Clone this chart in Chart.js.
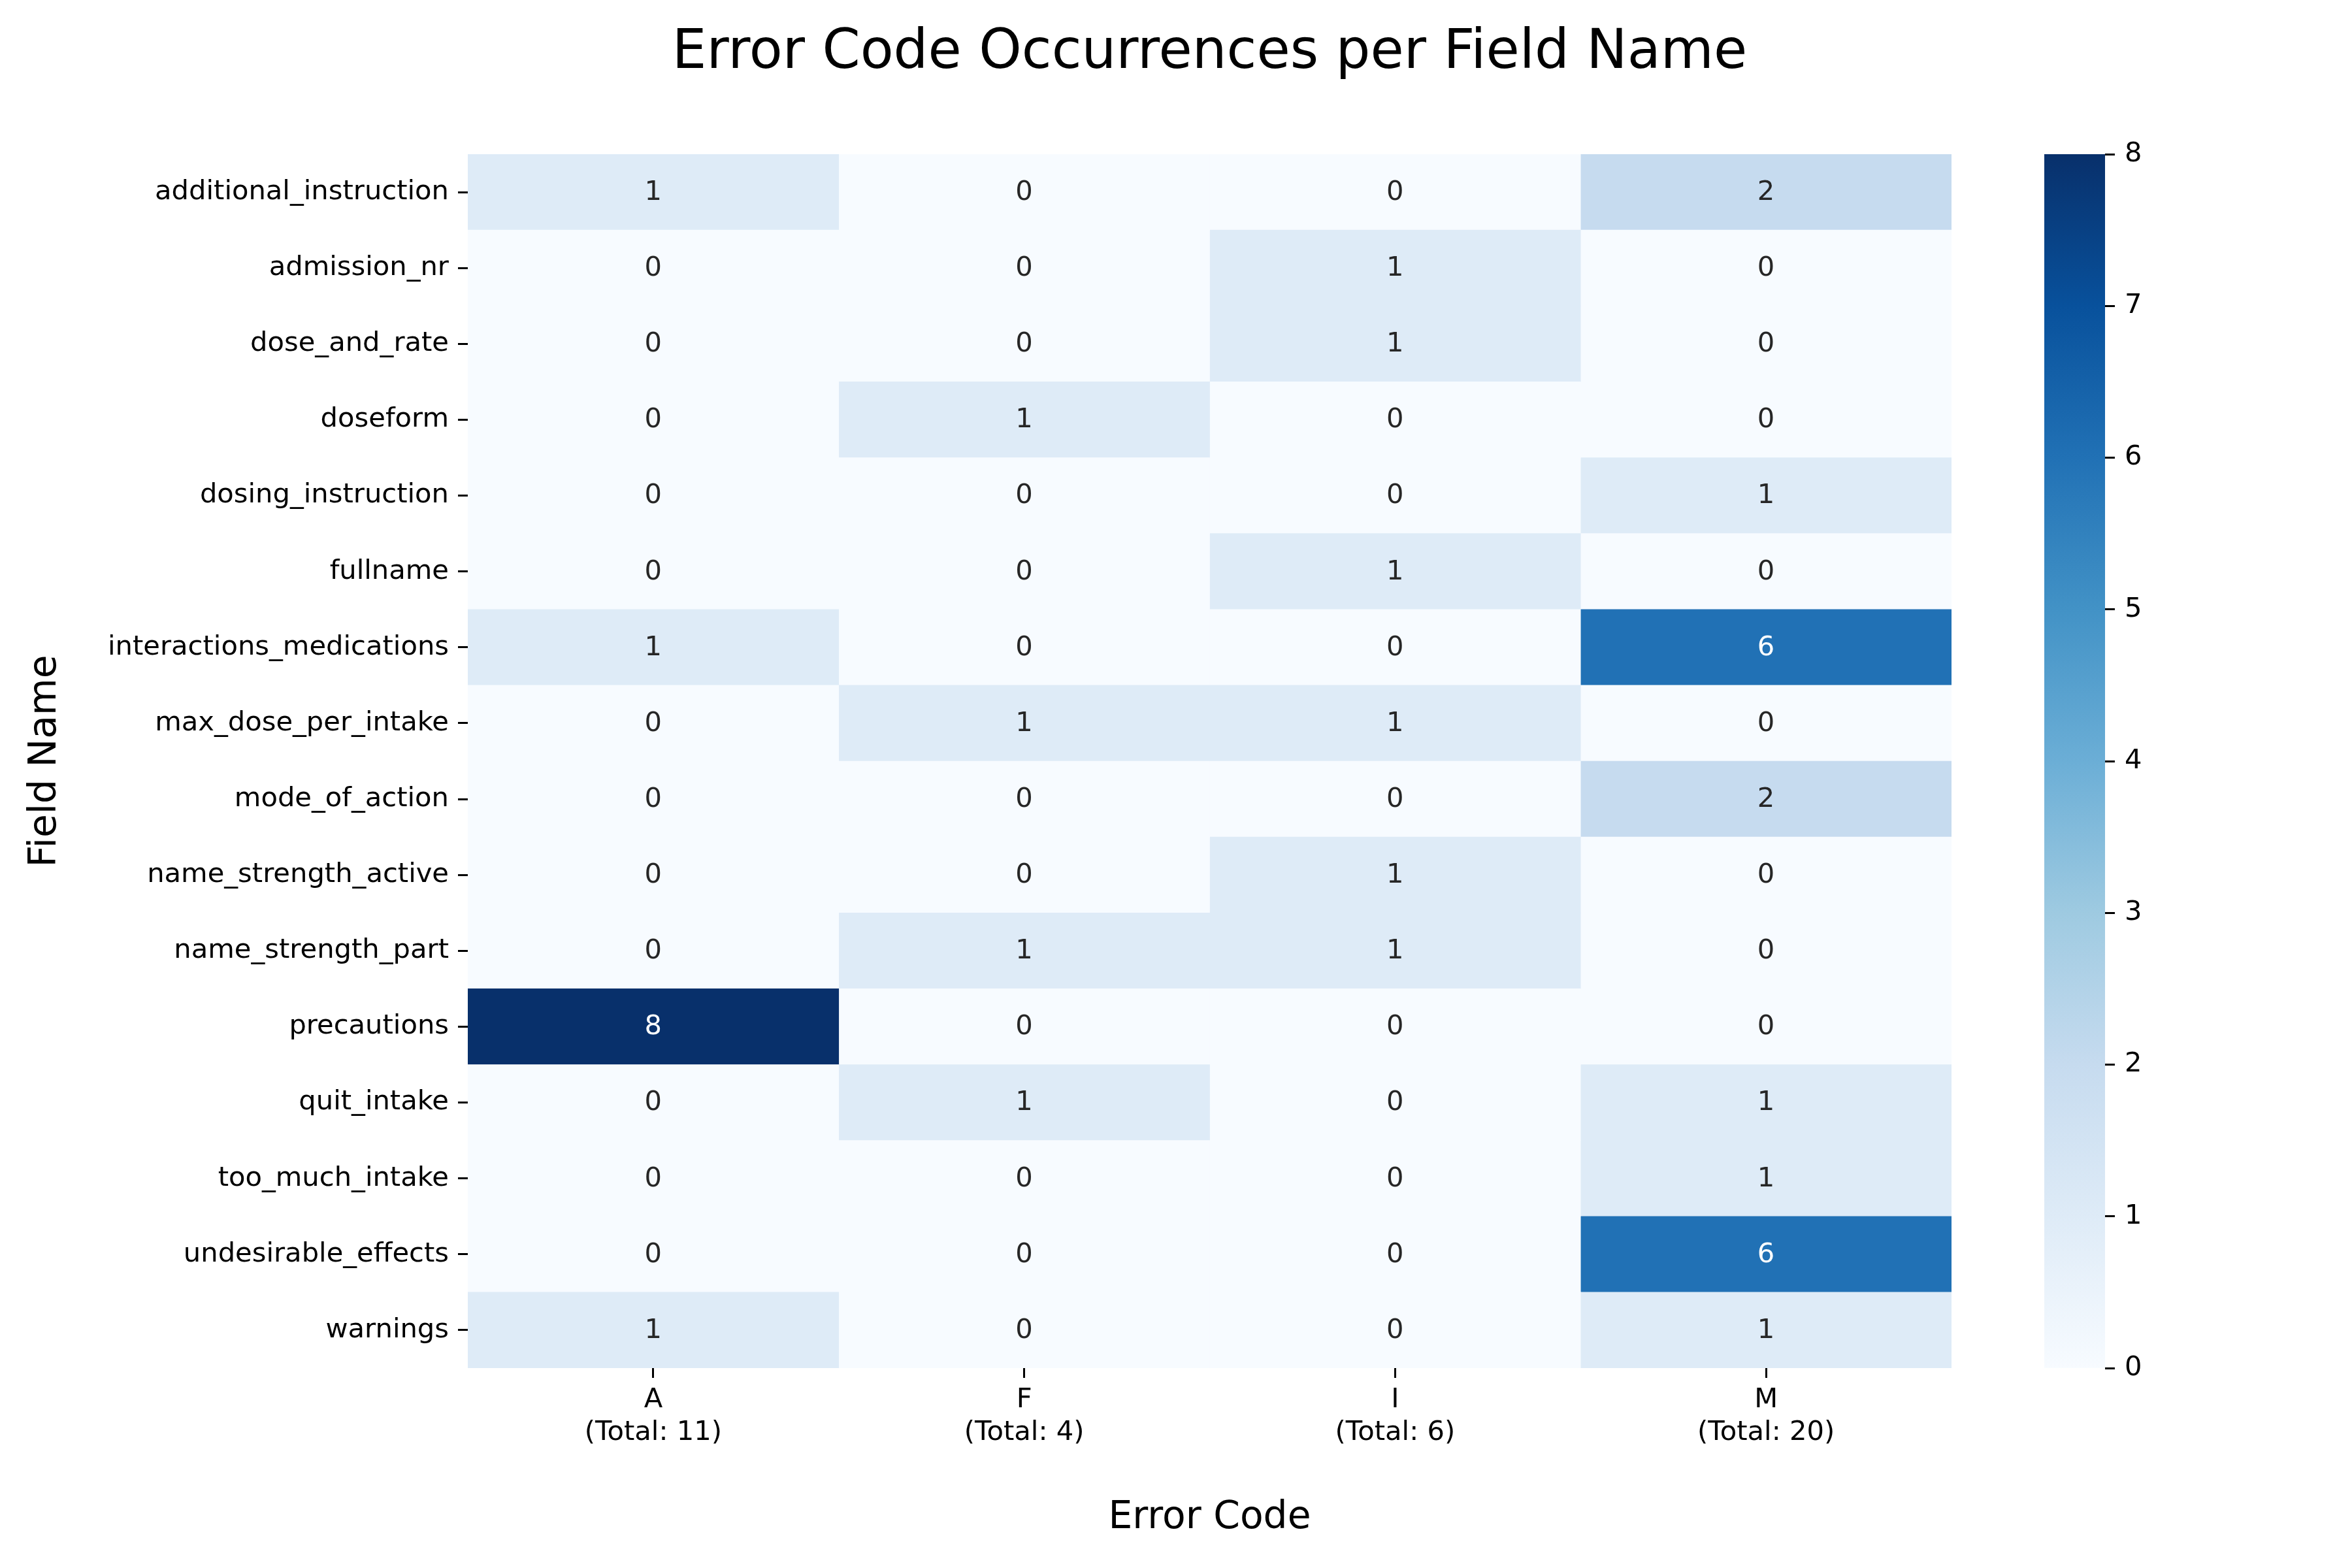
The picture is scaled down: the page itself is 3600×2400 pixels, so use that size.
<!DOCTYPE html>
<html>
<head>
<meta charset="utf-8">
<script src="https://cdn.jsdelivr.net/npm/chart.js@4.4.1/dist/chart.umd.min.js"></script>
<style>
  html, body { margin: 0; padding: 0; background: #ffffff; overflow: hidden; }
  #wrap { position: relative; width: 3600px; height: 2400px; background: #ffffff; }
  #main { position: absolute; left: 0; top: 0; }
  #cbar { position: absolute; left: 3000px; top: 0; }
</style>
</head>
<body>
<div id="wrap">
  <canvas id="main" width="3000" height="2400"></canvas>
  <canvas id="cbar" width="600" height="2400"></canvas>
</div>
<script>
const titleText = 'Error Code Occurrences per Field Name';
const xAxisTitle = 'Error Code';
const yAxisTitle = 'Field Name';

const fieldNames = [
  'additional_instruction', 'admission_nr', 'dose_and_rate', 'doseform',
  'dosing_instruction', 'fullname', 'interactions_medications', 'max_dose_per_intake',
  'mode_of_action', 'name_strength_active', 'name_strength_part', 'precautions',
  'quit_intake', 'too_much_intake', 'undesirable_effects', 'warnings'
];
const errorCodes = ['A', 'F', 'I', 'M'];

const countsA = [1, 0, 0, 0, 0, 0, 1, 0, 0, 0, 0, 8, 0, 0, 0, 1];
const countsF = [0, 0, 0, 1, 0, 0, 0, 1, 0, 0, 1, 0, 1, 0, 0, 0];
const countsI = [0, 1, 1, 0, 0, 1, 0, 1, 0, 1, 1, 0, 0, 0, 0, 0];
const countsM = [2, 0, 0, 0, 1, 0, 6, 0, 2, 0, 0, 0, 1, 1, 6, 1];

const colorbarTicks = [0, 1, 2, 3, 4, 5, 6, 7, 8];

const seriesByCode = [countsA, countsF, countsI, countsM];
const totals = seriesByCode.map(s => s.reduce((a, b) => a + b, 0));
const vmin = 0;
const vmax = Math.max(...seriesByCode.flat());

// matplotlib "Blues" colormap anchor colours
const bluesStops = ['#f7fbff', '#deebf7', '#c6dbef', '#9ecae1', '#6baed6', '#4292c6', '#2171b5', '#08519c', '#08306b'];

function hexToRgb(h) {
  return [parseInt(h.slice(1, 3), 16), parseInt(h.slice(3, 5), 16), parseInt(h.slice(5, 7), 16)];
}
function blues(v) {
  let t = (v - vmin) / (vmax - vmin);
  t = Math.max(0, Math.min(1, t));
  const pos = t * (bluesStops.length - 1);
  const i = Math.min(Math.floor(pos), bluesStops.length - 2);
  const f = pos - i;
  const a = hexToRgb(bluesStops[i]), b = hexToRgb(bluesStops[i + 1]);
  const c = a.map((x, k) => Math.round(x + (b[k] - x) * f));
  return `rgb(${c[0]},${c[1]},${c[2]})`;
}
function textColorFor(v) {
  const t = Math.max(0, Math.min(1, (v - vmin) / (vmax - vmin)));
  const pos = t * (bluesStops.length - 1);
  const i = Math.min(Math.floor(pos), bluesStops.length - 2);
  const f = pos - i;
  const a = hexToRgb(bluesStops[i]), b = hexToRgb(bluesStops[i + 1]);
  const c = a.map((x, k) => (x + (b[k] - x) * f) / 255);
  const lin = c.map(u => u <= 0.03928 ? u / 12.92 : Math.pow((u + 0.055) / 1.055, 2.4));
  const lum = 0.2126 * lin[0] + 0.7152 * lin[1] + 0.0722 * lin[2];
  return lum > 0.408 ? '#262626' : '#ffffff';
}

const FONT = "'DejaVu Sans', 'Liberation Sans', sans-serif";
const tickPx = 41.67;
const labelPx = 58.33;
const titlePx = 83.33;

const datasets = errorCodes.map((code, j) => ({
  label: code,
  data: seriesByCode[j].map(() => [j, j + 1]),
  counts: seriesByCode[j],
  backgroundColor: seriesByCode[j].map(v => blues(v)),
  borderWidth: 0,
  grouped: false,
  barPercentage: 1.0,
  categoryPercentage: 1.0
}));

const annotatePlugin = {
  id: 'annotate',
  afterDatasetsDraw(chart) {
    const ctx = chart.ctx;
    ctx.save();
    ctx.font = `${tickPx}px ${FONT}`;
    ctx.textAlign = 'center';
    ctx.textBaseline = 'middle';
    chart.data.datasets.forEach((ds, di) => {
      const meta = chart.getDatasetMeta(di);
      meta.data.forEach((el, i) => {
        const p = el.getCenterPoint();
        const v = ds.counts[i];
        ctx.fillStyle = textColorFor(v);
        ctx.fillText(String(v), p.x, p.y + 1);
      });
    });
    ctx.restore();
  }
};

new Chart(document.getElementById('main'), {
  type: 'bar',
  data: { labels: fieldNames, datasets },
  options: {
    indexAxis: 'y',
    responsive: false,
    devicePixelRatio: 1,
    animation: false,
    layout: { padding: { left: 0, right: 13, top: 0, bottom: 0 } },
    plugins: {
      legend: { display: false },
      tooltip: { enabled: false },
      title: {
        display: true,
        text: titleText,
        fullSize: false,
        color: '#000000',
        font: { family: FONT, size: titlePx, weight: 'normal', lineHeight: 1.2 },
        padding: { top: 32, bottom: 104 }
      }
    },
    scales: {
      x: {
        type: 'linear',
        min: 0,
        max: errorCodes.length,
        afterBuildTicks(scale) {
          scale.ticks = errorCodes.map((c, i) => ({ value: i + 0.5 }));
        },
        afterFit(scale) { scale.height = 306; },
        border: { display: false },
        grid: {
          display: true, drawOnChartArea: false, drawTicks: true,
          tickLength: 15, tickWidth: 3, tickColor: '#000000'
        },
        ticks: {
          autoSkip: false, maxRotation: 0, minRotation: 0, padding: 9,
          color: '#000000',
          font: { family: FONT, size: tickPx, lineHeight: 1.2 },
          callback: (value, index) => [errorCodes[index], `(Total: ${totals[index]})`]
        },
        title: {
          display: true, text: xAxisTitle, color: '#000000',
          font: { family: FONT, size: labelPx, lineHeight: 1.2 },
          padding: { top: 0, bottom: 41 }
        }
      },
      y: {
        type: 'category',
        offset: true,
        afterFit(scale) { scale.width = 716; },
        border: { display: false },
        grid: {
          display: true, drawOnChartArea: false, drawTicks: true, offset: false,
          tickLength: 15, tickWidth: 3, tickColor: '#000000'
        },
        ticks: {
          autoSkip: false, padding: 14, color: '#000000',
          font: { family: FONT, size: tickPx, lineHeight: 1.2 }
        },
        title: {
          display: true, text: yAxisTitle, color: '#000000',
          font: { family: FONT, size: labelPx, lineHeight: 1.2 },
          padding: { top: 35, bottom: 0 }
        }
      }
    }
  },
  plugins: [annotatePlugin]
});

new Chart(document.getElementById('cbar'), {
  type: 'bar',
  data: {
    labels: ['count'],
    datasets: [{
      data: [[vmin, vmax]],
      borderWidth: 0,
      barPercentage: 1.0,
      categoryPercentage: 1.0,
      backgroundColor(context) {
        const chart = context.chart;
        if (!chart.chartArea) return bluesStops[0];
        const ys = chart.scales.y;
        const g = chart.ctx.createLinearGradient(0, ys.getPixelForValue(vmin), 0, ys.getPixelForValue(vmax));
        bluesStops.forEach((c, i) => g.addColorStop(i / (bluesStops.length - 1), c));
        return g;
      }
    }]
  },
  options: {
    responsive: false,
    devicePixelRatio: 1,
    animation: false,
    layout: { padding: { left: 129, right: 0, top: 236, bottom: 306 } },
    plugins: { legend: { display: false }, tooltip: { enabled: false }, title: { display: false } },
    scales: {
      x: { display: false, offset: true },
      y: {
        position: 'right',
        min: vmin,
        max: vmax,
        afterBuildTicks(scale) {
          scale.ticks = colorbarTicks.map(v => ({ value: v }));
        },
        afterFit(scale) { scale.width = 378; },
        border: { display: false },
        grid: {
          display: true, drawOnChartArea: false, drawTicks: true,
          tickLength: 15, tickWidth: 3, tickColor: '#000000'
        },
        ticks: {
          autoSkip: false, padding: 15, color: '#000000',
          font: { family: FONT, size: tickPx, lineHeight: 1.2 }
        }
      }
    }
  }
});
</script>
</body>
</html>
